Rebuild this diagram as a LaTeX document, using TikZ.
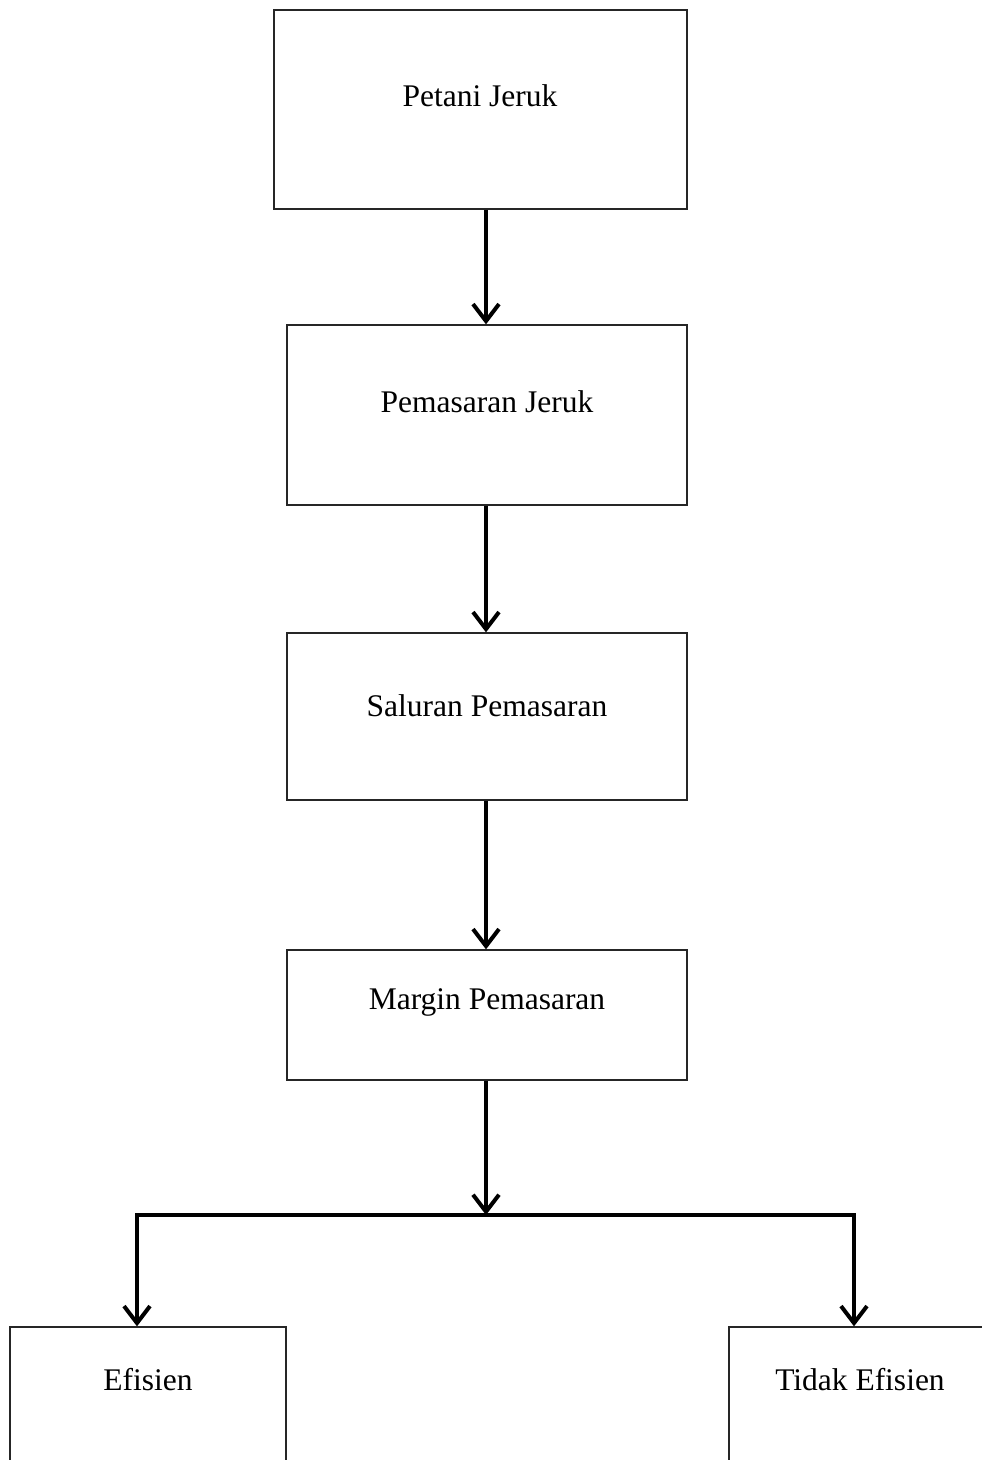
\documentclass[tikz,border=0pt]{standalone}
\usepackage{fontspec}
\setmainfont{Liberation Serif}
\usetikzlibrary{arrows.meta}
\begin{document}
\begin{tikzpicture}[x=1pt,y=-1pt,
  boxnode/.style={draw=black!85,line width=1.3pt,rectangle,inner sep=0pt},
  lbl/.style={font=\fontsize{31.5}{38}\selectfont,inner sep=0pt,anchor=center},
  conn/.style={line width=4pt},
  arr/.style={conn,-{Straight Barb[length=17pt,width=26pt,line width=4pt]}}]
\useasboundingbox (0,0) rectangle (982,1460);
\clip (0,0) rectangle (982,1460);
\fill[white] (0,0) rectangle (982,1460);
% boxes
\node[boxnode,minimum width=413pt,minimum height=199pt] (b1) at (480.5,109.5) {};
\node[boxnode,minimum width=400pt,minimum height=180pt] (b2) at (487,415) {};
\node[boxnode,minimum width=400pt,minimum height=167pt] (b3) at (487,716.5) {};
\node[boxnode,minimum width=400pt,minimum height=130pt] (b4) at (487,1015) {};
\node[boxnode,minimum width=276pt,minimum height=200pt] (b5) at (148,1427) {};
\node[boxnode,minimum width=300pt,minimum height=200pt] (b6) at (879,1427) {};
% labels
\node[lbl] (t1) at (480,96) {Petani Jeruk};
\node[lbl] (t2) at (487,402) {Pemasaran Jeruk};
\node[lbl] (t3) at (487,706) {Saluran Pemasaran};
\node[lbl] (t4) at (487,1002) {Margin Pemasaran};
\node[lbl] (t5) at (148,1380) {Efisien};
\node[lbl] (t6) at (860,1380) {Tidak Efisien};
% connectors
\coordinate (split) at (486,1215);
\coordinate (lc) at (137,1215);
\coordinate (rc) at (854,1215);
\draw[arr] (b1.south -| split) -- (b2.north -| split);
\draw[arr] (b2.south -| split) -- (b3.north -| split);
\draw[arr] (b3.south -| split) -- (b4.north -| split);
\draw[arr] (b4.south -| split) -- (split);
\draw[conn,line cap=rect] (lc) -- (rc);
\draw[arr] (lc) -- (b5.north -| lc);
\draw[arr] (rc) -- (b6.north -| rc);
\end{tikzpicture}
\end{document}
